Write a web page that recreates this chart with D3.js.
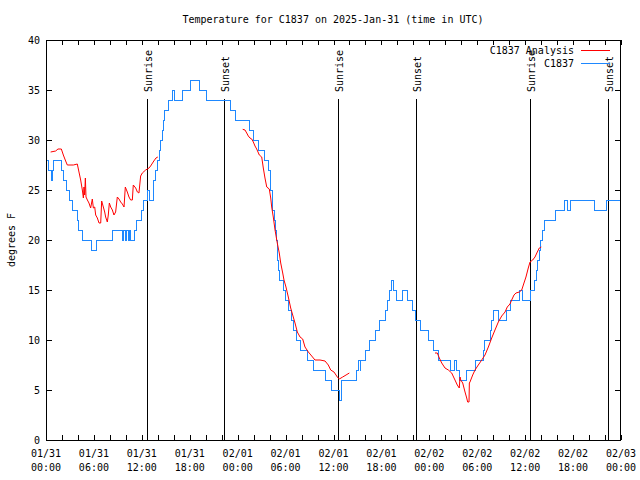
<!DOCTYPE html>
<html><head><meta charset="utf-8">
<script src="https://cdn.jsdelivr.net/npm/d3@7"></script>
<style>body{margin:0;background:#fff}svg text{font-family:"DejaVu Sans Mono",monospace;font-size:10px;fill:#000}</style>
</head><body>
<svg id="chart" width="640" height="480"></svg>
<script>
// ---------- data ----------
const chartTitle = "Temperature for C1837 on 2025-Jan-31 (time in UTC)";
const yAxisLabel = "degrees F";
const startTime = "2025-01-31T00:00:00Z";
const endTime = "2025-02-03T00:00:00Z";
const yTickValues = [0, 5, 10, 15, 20, 25, 30, 35, 40];
const seriesNames = ["C1837 Analysis", "C1837"];
const sunLabels = ["Sunrise", "Sunset", "Sunrise", "Sunset", "Sunrise", "Sunset"];
const sunHours = [12.68, 22.33, 36.6, 46.37, 60.64, 70.4];
const sunLineTop = 34.1;

// observed (hours since start, deg F)
const obsHours = [0,0.33,0.67,0.79,1.0,1.92,2.25,2.59,3.0,3.3,3.92,4.13,4.55,5.68,6.34,8.35,9.52,9.69,9.9,10.06,10.27,10.44,10.64,11.06,11.27,11.98,12.27,12.77,13.02,13.4,13.52,13.77,13.94,14.19,14.36,14.53,14.69,14.9,15.32,15.86,16.03,17.07,18.11,19.28,20.12,23.1,23.67,25.42,25.98,26.67,27.42,27.84,28.05,28.17,28.3,28.42,28.55,28.68,28.8,28.93,29.05,29.11,29.3,29.8,30.05,30.34,30.77,31.05,31.39,31.89,32.72,33.47,34.94,35.69,36.81,36.94,38.82,39.1,39.32,39.44,39.95,40.48,41.2,41.74,42.45,42.74,42.99,43.29,43.49,43.91,44.67,45.24,45.92,46.33,46.92,47.9,48.58,49.12,50.68,51.09,51.34,51.75,52.68,53.84,54.76,54.97,55.68,55.81,56.01,56.64,57.6,58.19,59.35,59.69,60.69,61.23,61.44,61.6,61.77,61.95,62.2,62.48,63.86,64.9,65.33,65.62,68.62,70.21,72.0];
const obsTemps = [28,27,26,27,28,27,26,25,24,23,22,21,20,19,20,21,20,21,20,21,20,21,20,21,22,23,24,25,24,25,26,27,28,29,30,31,32,33,34,35,34,35,36,35,34,33,32,31,30,29,28,27,26,25,24,23,22,21,20,19,18,17,16,15,14,13,12,11,10,9,8,7,6,5,4,6,7,8,7,8,9,10,11,12,13,14,15,16,15,14,15,14,13,12,11,10,9,8,7,8,7,6,7,8,9,10,11,12,13,12,13,14,15,14,15,16,17,18,19,20,21,22,23,24,23,24,23,24,24];

// analysis (null = gap)
const anaHours = [0.58,1.21,1.5,1.92,2.17,2.46,2.67,3.42,3.92,4.13,4.34,4.55,4.68,4.76,4.84,4.93,5.01,5.18,5.38,5.59,5.8,5.93,6.1,6.22,6.43,6.64,6.85,6.97,7.18,7.35,7.47,7.68,7.8,7.93,8.1,8.31,8.51,8.72,8.93,9.14,9.35,9.56,9.77,9.93,10.18,10.39,10.6,10.81,10.93,11.23,11.44,11.64,11.85,12.06,12.48,12.9,13.1,13.5,13.77,14.0,
  null,
  24.63,24.92,25.13,25.33,25.54,25.76,25.96,26.17,26.38,26.71,27.01,27.21,27.42,27.64,27.96,28.14,28.26,28.46,28.68,28.96,29.21,29.39,29.64,29.8,30.05,30.34,30.64,30.89,31.18,31.47,31.81,32.14,32.43,32.85,33.27,33.68,34.31,34.94,35.35,35.65,36.06,36.48,36.73,37.15,37.57,37.98,
  null,
  48.71,49.0,49.25,49.55,49.96,50.38,50.8,51.21,51.5,51.75,51.84,51.93,52.18,52.47,52.68,52.8,52.97,53.01,53.09,53.43,53.72,54.13,54.56,54.97,55.39,55.81,56.22,56.64,57.06,57.48,57.76,58.1,58.31,58.6,58.85,59.27,59.57,59.85,60.1,60.39,60.61,60.94,61.23,61.52,61.77,62.02];
const anaTemps = [28.8,28.9,29.1,29.1,28.5,27.9,27.5,27.5,27.6,26.8,26.0,25.0,24.2,25.3,24.5,26.2,24.3,24.0,23.7,23.2,24.1,23.2,23.3,22.5,22.2,21.7,21.7,23.9,23.3,22.8,22.3,21.8,22.5,23.7,23.3,23.0,22.5,22.8,24.3,24.1,23.8,23.6,23.3,25.3,24.8,24.3,24.0,24.0,25.5,25.2,24.8,24.7,26.4,26.7,27.0,27.2,27.4,27.9,28.2,28.3,
  null,
  31.07,31.0,30.7,30.4,30.2,30.1,29.8,29.4,29.1,28.5,28.3,27.2,26.2,25.3,25.1,24.2,23.3,22.3,21.0,19.7,18.7,17.7,16.7,16.0,15.3,14.3,13.2,12.5,11.7,10.8,10.3,10.1,9.3,8.8,8.4,8.0,8.0,7.9,7.5,7.0,6.8,6.3,6.1,6.3,6.5,6.7,
  null,
  8.7,8.7,8.2,7.7,7.2,7.0,6.7,6.0,5.5,5.2,6.3,6.0,5.7,4.8,4.2,3.8,3.8,5.7,5.8,6.5,7.0,7.5,8.0,8.5,9.3,10.2,11.0,11.8,12.4,12.8,13.3,13.6,14.0,14.5,14.7,14.8,15.0,15.7,16.3,17.2,17.8,18.0,18.3,18.8,19.2,19.3];

const colors = {analysis: "#ff0000", obs: "#1e88ff"};

// ---------- chart ----------
const W = 640, H = 480;
const plot = {left: 46, right: 621, top: 40, bottom: 440};
const t0 = new Date(startTime);
const toDate = h => new Date(+t0 + h * 3600e3);

const x = d3.scaleUtc().domain([new Date(startTime), new Date(endTime)]).range([plot.left, plot.right]);
const y = d3.scaleLinear().domain([0, 40]).range([plot.bottom, plot.top]);

const svg = d3.select("#chart");
svg.append("rect").attr("width", W).attr("height", H).attr("fill", "#fff");

// sunrise / sunset lines
const sun = sunHours.map((h, i) => ({t: toDate(h), label: sunLabels[i]}));
svg.append("g").selectAll("line").data(sun).join("line")
  .attr("x1", d => Math.round(x(d.t)) + 0.5).attr("x2", d => Math.round(x(d.t)) + 0.5)
  .attr("y1", y(0)).attr("y2", y(sunLineTop))
  .attr("stroke", "#000").attr("stroke-width", 1).attr("shape-rendering", "crispEdges");
svg.append("g").selectAll("text").data(sun).join("text")
  .attr("transform", d => `translate(${Math.round(x(d.t)) + 5},${y(sunLineTop) - 7}) rotate(-90)`)
  .attr("text-anchor", "start").text(d => d.label);

// observed series
const obs = obsHours.map((h, i) => ({t: toDate(h), v: obsTemps[i]}));
svg.append("path").datum(obs)
  .attr("fill", "none").attr("stroke", colors.obs).attr("stroke-width", 1)
  .attr("shape-rendering", "crispEdges")
  .attr("d", d3.line().curve(d3.curveStepAfter).x(d => x(d.t)).y(d => Math.round(y(d.v)) + 0.5));

// analysis series
const ana = anaHours.map((h, i) => ({t: h === null ? null : toDate(h), v: anaTemps[i]}));
svg.append("path").datum(ana)
  .attr("fill", "none").attr("stroke", colors.analysis).attr("stroke-width", 1)
  .attr("d", d3.line().defined(d => d.t !== null && d.v !== null).x(d => x(d.t)).y(d => y(d.v)));

// axes (inward ticks, mirrored)
function styleAxis(g) {
  g.select(".domain").remove();
  g.selectAll("line").attr("stroke", "#000").attr("shape-rendering", "crispEdges");
  g.selectAll("text").remove();
}
const xTicks = d3.utcHour.every(2);
svg.append("g").attr("transform", `translate(0,${plot.bottom})`)
  .call(d3.axisBottom(x).ticks(xTicks).tickSizeInner(-5).tickSizeOuter(0)).call(styleAxis);
svg.append("g").attr("transform", `translate(0,${plot.top})`)
  .call(d3.axisTop(x).ticks(xTicks).tickSizeInner(-5).tickSizeOuter(0)).call(styleAxis);
svg.append("g").attr("transform", `translate(${plot.left},0)`)
  .call(d3.axisLeft(y).tickValues(yTickValues).tickSizeInner(-6).tickSizeOuter(0)).call(styleAxis);
svg.append("g").attr("transform", `translate(${plot.right},0)`)
  .call(d3.axisRight(y).tickValues(yTickValues).tickSizeInner(-6).tickSizeOuter(0)).call(styleAxis);

// border
svg.append("rect").attr("x", plot.left + 0.5).attr("y", plot.top + 0.5)
  .attr("width", plot.right - plot.left - 1).attr("height", plot.bottom - plot.top)
  .attr("fill", "none").attr("stroke", "#000").attr("shape-rendering", "crispEdges");

// y tick labels
svg.append("g").selectAll("text").data(yTickValues).join("text")
  .attr("x", plot.left - 6).attr("y", d => y(d) + 4).attr("text-anchor", "end").text(d => d);

// x tick labels (two lines)
const labelTicks = x.ticks(d3.utcHour.every(6));
const fmtDate = d3.utcFormat("%m/%d"), fmtTime = d3.utcFormat("%H:%M");
const xl = svg.append("g").selectAll("text").data(labelTicks).join("text")
  .attr("text-anchor", "middle");
xl.append("tspan").attr("x", d => x(d)).attr("y", 457).text(d => fmtDate(d));
xl.append("tspan").attr("x", d => x(d)).attr("y", 471).text(d => fmtTime(d));

// title and y label
svg.append("text").attr("x", 333).attr("y", 23).attr("text-anchor", "middle").text(chartTitle);
svg.append("text").attr("transform", "translate(15,240) rotate(-90)").attr("text-anchor", "middle").text(yAxisLabel);

// legend
const legendColors = [colors.analysis, colors.obs];
const lg = svg.append("g");
seriesNames.forEach((name, i) => {
  const yy = 50 + i * 12.5;
  lg.append("text").attr("x", 574).attr("y", yy + 4).attr("text-anchor", "end").text(name);
  lg.append("line").attr("x1", 581).attr("x2", 610).attr("y1", Math.round(yy) + 0.5).attr("y2", Math.round(yy) + 0.5)
    .attr("stroke", legendColors[i]).attr("shape-rendering", "crispEdges");
});
</script>
</body></html>
